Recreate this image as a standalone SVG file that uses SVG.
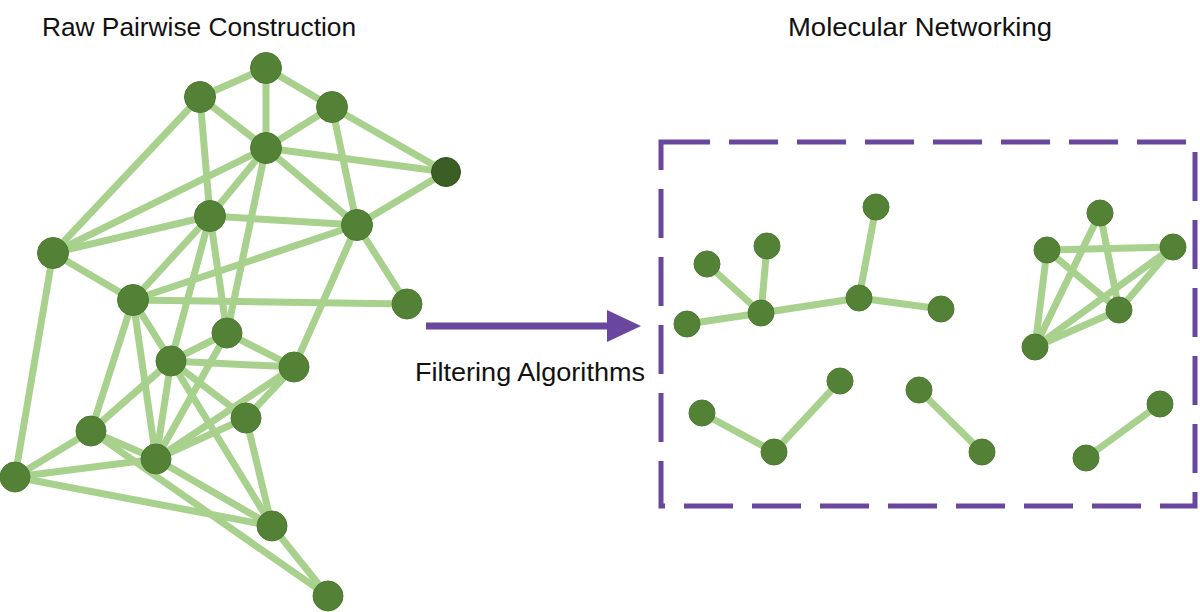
<svg xmlns="http://www.w3.org/2000/svg" width="1200" height="612" viewBox="0 0 1200 612">
<style>
.e{stroke:#a9d18e;stroke-width:7;stroke-linecap:round;fill:none}
.n{fill:#538135;stroke:#4c7a30;stroke-width:1}
.nd{fill:#3b5e24;stroke:#30501c;stroke-width:1}
.t{font-family:"Liberation Sans",Arial,sans-serif;font-size:26px;fill:#111}
.box{fill:none;stroke:#6a479f;stroke-width:5;stroke-dasharray:49 19}
</style>
<rect width="1200" height="612" fill="#fff"/>
<text class="t" x="42" y="36" textLength="314" lengthAdjust="spacingAndGlyphs">Raw Pairwise Construction</text>
<text class="t" x="788" y="36" textLength="264" lengthAdjust="spacingAndGlyphs">Molecular Networking</text>
<g id="connectors">
<g id="left-edges">
<line class="e" x1="266" y1="68" x2="200" y2="97"/>
<line class="e" x1="266" y1="68" x2="332" y2="107"/>
<line class="e" x1="266" y1="68" x2="266" y2="148"/>
<line class="e" x1="200" y1="97" x2="266" y2="148"/>
<line class="e" x1="200" y1="97" x2="210" y2="216"/>
<line class="e" x1="200" y1="97" x2="53" y2="253"/>
<line class="e" x1="332" y1="107" x2="266" y2="148"/>
<line class="e" x1="332" y1="107" x2="446" y2="172"/>
<line class="e" x1="332" y1="107" x2="357" y2="225"/>
<line class="e" x1="266" y1="148" x2="446" y2="172"/>
<line class="e" x1="266" y1="148" x2="357" y2="225"/>
<line class="e" x1="266" y1="148" x2="53" y2="253"/>
<line class="e" x1="266" y1="148" x2="210" y2="216"/>
<line class="e" x1="266" y1="148" x2="227" y2="333"/>
<line class="e" x1="446" y1="172" x2="357" y2="225"/>
<line class="e" x1="210" y1="216" x2="53" y2="253"/>
<line class="e" x1="210" y1="216" x2="357" y2="225"/>
<line class="e" x1="210" y1="216" x2="133" y2="300"/>
<line class="e" x1="210" y1="216" x2="227" y2="333"/>
<line class="e" x1="210" y1="216" x2="171" y2="361"/>
<line class="e" x1="357" y1="225" x2="133" y2="300"/>
<line class="e" x1="357" y1="225" x2="407" y2="304"/>
<line class="e" x1="357" y1="225" x2="294" y2="367"/>
<line class="e" x1="53" y1="253" x2="133" y2="300"/>
<line class="e" x1="53" y1="253" x2="15" y2="477"/>
<line class="e" x1="133" y1="300" x2="407" y2="304"/>
<line class="e" x1="133" y1="300" x2="171" y2="361"/>
<line class="e" x1="133" y1="300" x2="91" y2="431"/>
<line class="e" x1="133" y1="300" x2="156" y2="459"/>
<line class="e" x1="227" y1="333" x2="171" y2="361"/>
<line class="e" x1="227" y1="333" x2="294" y2="367"/>
<line class="e" x1="227" y1="333" x2="156" y2="459"/>
<line class="e" x1="171" y1="361" x2="294" y2="367"/>
<line class="e" x1="171" y1="361" x2="91" y2="431"/>
<line class="e" x1="171" y1="361" x2="156" y2="459"/>
<line class="e" x1="171" y1="361" x2="272" y2="526"/>
<line class="e" x1="171" y1="361" x2="246" y2="418"/>
<line class="e" x1="294" y1="367" x2="246" y2="418"/>
<line class="e" x1="294" y1="367" x2="156" y2="459"/>
<line class="e" x1="246" y1="418" x2="156" y2="459"/>
<line class="e" x1="246" y1="418" x2="272" y2="526"/>
<line class="e" x1="91" y1="431" x2="15" y2="477"/>
<line class="e" x1="91" y1="431" x2="156" y2="459"/>
<line class="e" x1="91" y1="431" x2="328" y2="596"/>
<line class="e" x1="156" y1="459" x2="15" y2="477"/>
<line class="e" x1="156" y1="459" x2="272" y2="526"/>
<line class="e" x1="15" y1="477" x2="272" y2="526"/>
<line class="e" x1="272" y1="526" x2="328" y2="596"/>
</g>
<g id="right-edges">
<line class="e" x1="687" y1="324" x2="761" y2="313"/>
<line class="e" x1="761" y1="313" x2="707" y2="264"/>
<line class="e" x1="761" y1="313" x2="767" y2="246"/>
<line class="e" x1="761" y1="313" x2="859" y2="298"/>
<line class="e" x1="859" y1="298" x2="876" y2="207"/>
<line class="e" x1="859" y1="298" x2="941" y2="309"/>
<line class="e" x1="1047" y1="250" x2="1173" y2="247"/>
<line class="e" x1="1047" y1="250" x2="1119" y2="310"/>
<line class="e" x1="1047" y1="250" x2="1035" y2="347"/>
<line class="e" x1="1100" y1="213" x2="1035" y2="347"/>
<line class="e" x1="1100" y1="213" x2="1119" y2="310"/>
<line class="e" x1="1173" y1="247" x2="1119" y2="310"/>
<line class="e" x1="1173" y1="247" x2="1035" y2="347"/>
<line class="e" x1="1119" y1="310" x2="1035" y2="347"/>
<line class="e" x1="702" y1="413" x2="774" y2="452"/>
<line class="e" x1="774" y1="452" x2="840" y2="381"/>
<line class="e" x1="919" y1="390" x2="982" y2="452"/>
<line class="e" x1="1086" y1="458" x2="1160" y2="404"/>
</g>
<g id="filter-arrow">
<line x1="426" y1="326" x2="610" y2="326" stroke="#6a479f" stroke-width="7"/>
<polygon points="607,310 641,326 607,342" fill="#6a479f"/>
</g>
</g>
<text class="t" x="415" y="381" textLength="230" lengthAdjust="spacingAndGlyphs">Filtering Algorithms</text>
<g id="network-box"><rect class="box" x="661" y="142" width="534" height="364"/></g>
<g id="left-nodes">
<circle id="nA" class="n" cx="266" cy="68" r="15.5"/>
<circle id="nB" class="n" cx="200" cy="97" r="15.5"/>
<circle id="nC" class="n" cx="332" cy="107" r="15.5"/>
<circle id="nD" class="n" cx="266" cy="148" r="15.5"/>
<circle id="nE" class="nd" cx="446" cy="172" r="14.5"/>
<circle id="nF" class="n" cx="210" cy="216" r="15.5"/>
<circle id="nG" class="n" cx="357" cy="225" r="15.5"/>
<circle id="nH" class="n" cx="53" cy="253" r="15.5"/>
<circle id="nI" class="n" cx="133" cy="300" r="15.5"/>
<circle id="nJ" class="n" cx="407" cy="304" r="15"/>
<circle id="nK" class="n" cx="227" cy="333" r="15"/>
<circle id="nL" class="n" cx="171" cy="361" r="15"/>
<circle id="nM" class="n" cx="294" cy="367" r="15"/>
<circle id="nN" class="n" cx="246" cy="418" r="15"/>
<circle id="nO" class="n" cx="91" cy="431" r="15"/>
<circle id="nP" class="n" cx="156" cy="459" r="15"/>
<circle id="nQ" class="n" cx="15" cy="477" r="15"/>
<circle id="nR" class="n" cx="272" cy="526" r="15"/>
<circle id="nS" class="n" cx="328" cy="596" r="15"/>
</g>
<g id="right-nodes">
<circle id="ra" class="n" cx="687" cy="324" r="13"/>
<circle id="rb" class="n" cx="761" cy="313" r="13"/>
<circle id="rc" class="n" cx="707" cy="264" r="13"/>
<circle id="rd" class="n" cx="767" cy="246" r="13"/>
<circle id="re" class="n" cx="859" cy="298" r="13"/>
<circle id="rf" class="n" cx="876" cy="207" r="13"/>
<circle id="rg" class="n" cx="941" cy="309" r="13"/>
<circle id="rp" class="n" cx="1047" cy="250" r="13"/>
<circle id="rq" class="n" cx="1100" cy="213" r="13"/>
<circle id="rr" class="n" cx="1173" cy="247" r="13"/>
<circle id="rs" class="n" cx="1119" cy="310" r="13"/>
<circle id="rt" class="n" cx="1035" cy="347" r="13"/>
<circle id="rh" class="n" cx="702" cy="413" r="13"/>
<circle id="ri" class="n" cx="774" cy="452" r="13"/>
<circle id="rj" class="n" cx="840" cy="381" r="13"/>
<circle id="rk" class="n" cx="919" cy="390" r="13"/>
<circle id="rl" class="n" cx="982" cy="452" r="13"/>
<circle id="rm" class="n" cx="1086" cy="458" r="13"/>
<circle id="rn" class="n" cx="1160" cy="404" r="13"/>
</g>
</svg>
